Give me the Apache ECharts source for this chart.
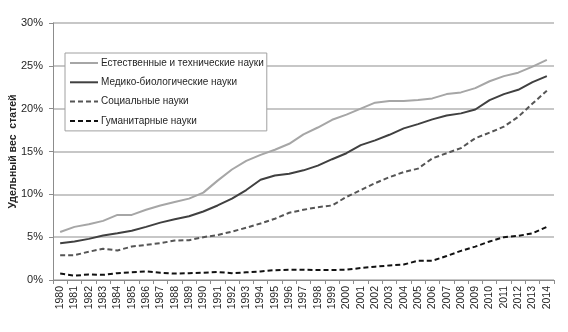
<!DOCTYPE html>
<html>
<head>
<meta charset="utf-8">
<script src="https://cdn.jsdelivr.net/npm/echarts@6/dist/echarts.min.js"></script>
<style>
  html, body { margin: 0; padding: 0; background: #fff; }
  #chart { width: 568px; height: 332px; }
</style>
</head>
<body>
<div id="chart"></div>
<script>
// Years on the category axis
const years = [
  '1980','1981','1982','1983','1984','1985','1986','1987','1988','1989',
  '1990','1991','1992','1993','1994','1995','1996','1997','1998','1999',
  '2000','2001','2002','2003','2004','2005','2006','2007','2008','2009',
  '2010','2011','2012','2013','2014'
];

// Share of articles, %
const natural = [
  5.6, 6.2, 6.5, 6.9, 7.6, 7.6, 8.2, 8.7, 9.1, 9.5,
  10.2, 11.6, 12.9, 13.9, 14.6, 15.2, 15.9, 17.0, 17.8, 18.7,
  19.3, 20.0, 20.7, 20.9, 20.9, 21.0, 21.2, 21.7, 21.9, 22.4,
  23.2, 23.8, 24.2, 24.9, 25.7
];
const biomedical = [
  4.3, 4.5, 4.8, 5.2, 5.45, 5.75, 6.2, 6.7, 7.1, 7.45,
  8.0, 8.7, 9.5, 10.5, 11.7, 12.2, 12.4, 12.8, 13.35, 14.1,
  14.8, 15.75, 16.3, 16.95, 17.7, 18.2, 18.75, 19.2, 19.45, 19.9,
  21.0, 21.7, 22.2, 23.1, 23.8
];
const social = [
  2.9, 2.9, 3.3, 3.65, 3.45, 3.9, 4.1, 4.3, 4.6, 4.65,
  5.0, 5.25, 5.65, 6.1, 6.6, 7.15, 7.85, 8.2, 8.5, 8.7,
  9.7, 10.5, 11.3, 12.0, 12.6, 13.0, 14.2, 14.8, 15.4, 16.55,
  17.2, 17.9, 19.05, 20.6, 22.1
];
const humanities = [
  0.75, 0.5, 0.65, 0.6, 0.8, 0.9, 1.0, 0.85, 0.75, 0.8,
  0.85, 0.93, 0.8, 0.9, 1.0, 1.15, 1.2, 1.2, 1.17, 1.17,
  1.2, 1.4, 1.55, 1.7, 1.8, 2.25, 2.25, 2.8, 3.4, 3.9,
  4.5, 5.0, 5.15, 5.45, 6.2
];

const seriesNames = [
  'Естественные и технические науки',
  'Медико-биологические науки',
  'Социальные науки',
  'Гуманитарные науки'
];

const font = "'Liberation Sans', Arial, sans-serif";
const textColor = '#262626';

// Legend swatches: a plain bar for solid lines, four short bars for dashed ones
const solidIcon = 'path://M0,0h28v2h-28z';
const dashIcon = 'path://M0,0h5v2h-5zM8,0h5v2h-5zM16,0h5v2h-5zM24,0h4v2h-4z';

function lineSeries(name, data, color, type) {
  return {
    name: name,
    type: 'line',
    data: data,
    symbol: 'none',
    smooth: false,
    lineStyle: { color: color, width: 2, type: type },
    itemStyle: { color: color }
  };
}

const chart = echarts.init(document.getElementById('chart'), null, { renderer: 'canvas' });
chart.setOption({
  animation: false,
  backgroundColor: '#ffffff',
  grid: { left: 53, right: 14, top: 23, bottom: 52, containLabel: false, outerBoundsMode: 'none' },
  legend: {
    orient: 'vertical',
    left: 65,
    top: 53,
    padding: [3, 3, 3, 5],
    itemWidth: 28,
    itemHeight: 2,
    itemGap: 5.3,
    borderColor: '#a0a0a0',
    borderWidth: 1,
    backgroundColor: '#ffffff',
    textStyle: { fontFamily: font, fontSize: 10, lineHeight: 14, color: textColor, padding: [0, 0, 0, -2] },
    data: [
      { name: seriesNames[0], icon: solidIcon },
      { name: seriesNames[1], icon: solidIcon },
      { name: seriesNames[2], icon: dashIcon },
      { name: seriesNames[3], icon: dashIcon }
    ]
  },
  xAxis: {
    type: 'category',
    data: years,
    boundaryGap: true,
    axisLine: { lineStyle: { color: '#8c8c8c', width: 1 } },
    axisTick: { show: true, alignWithLabel: false, length: 4, lineStyle: { color: '#8c8c8c' } },
    axisLabel: {
      interval: 0,
      rotate: 90,
      fontFamily: font,
      fontSize: 10.5,
      color: textColor,
      margin: 6
    },
    splitLine: { show: false }
  },
  yAxis: {
    type: 'value',
    min: 0,
    max: 30,
    interval: 5,
    name: 'Удельный вес  статей',
    nameLocation: 'middle',
    nameGap: 34,
    nameMoveOverlap: false,
    nameRotate: 90,
    nameTextStyle: { fontFamily: font, fontSize: 10.5, fontWeight: 'bold', color: textColor },
    axisLine: { show: true, lineStyle: { color: '#8c8c8c', width: 1 } },
    axisTick: { show: true, length: 4, lineStyle: { color: '#8c8c8c' } },
    axisLabel: {
      formatter: '{value}%',
      fontFamily: font,
      fontSize: 11,
      color: textColor,
      margin: 10
    },
    splitLine: { show: true, lineStyle: { color: '#b4b4b4', width: 1.5 } }
  },
  series: [
    lineSeries(seriesNames[0], natural, '#a6a6a6', 'solid'),
    lineSeries(seriesNames[1], biomedical, '#404040', 'solid'),
    lineSeries(seriesNames[2], social, '#555555', [5, 3]),
    lineSeries(seriesNames[3], humanities, '#111111', [5, 3])
  ]
});
</script>
</body>
</html>
